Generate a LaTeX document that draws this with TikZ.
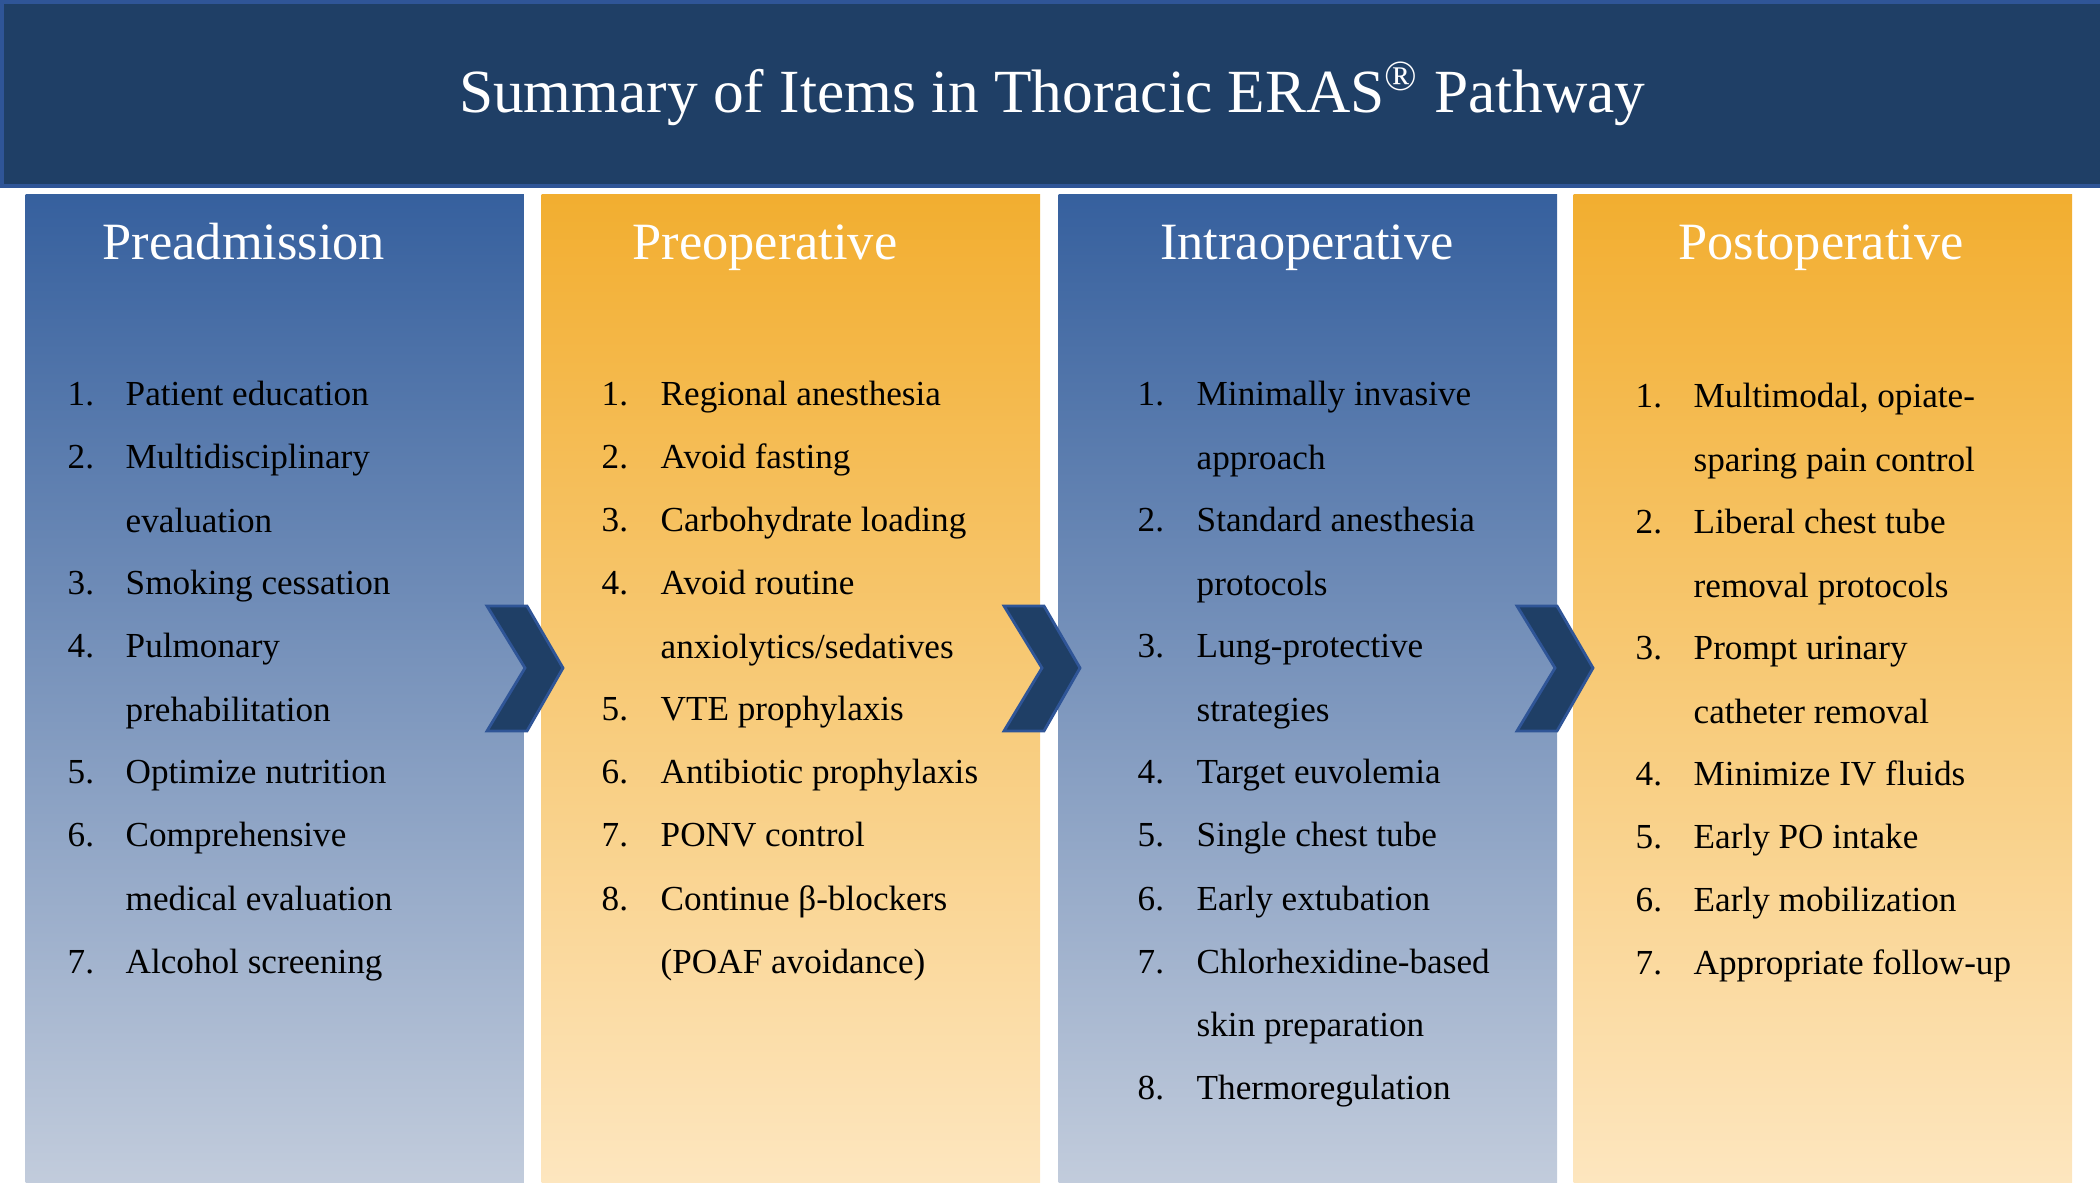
\documentclass[tikz,border=0pt]{standalone}
\usepackage{fontspec}
\setmainfont{Liberation Serif}
\usetikzlibrary{positioning}

\definecolor{navy}{HTML}{1F3F66}
\definecolor{navyedge}{HTML}{2F5597}
\definecolor{bluetop}{HTML}{36609E}
\definecolor{bluemid}{HTML}{8FA3C4}
\definecolor{bluebot}{HTML}{C2CCDC}
\definecolor{orangetop}{HTML}{F2AE30}
\definecolor{orangemid}{HTML}{F9CF8A}
\definecolor{orangebot}{HTML}{FDE6BF}

% two lines of one item, baseline at the first line
\newcommand\twoline[2]{\vtop{\hbox{#1}\hbox{#2}}}

\tikzset{
  phase/.style={anchor=north west, minimum width=4.98cm, minimum height=9.89cm, inner sep=0pt},
  bluephase/.style={phase, top color=bluetop, middle color=bluemid, bottom color=bluebot},
  orangephase/.style={phase, top color=orangetop, middle color=orangemid, bottom color=orangebot},
  phasetitle/.style={anchor=base, inner sep=0pt, text=white, font=\fontsize{14.9}{18}\selectfont},
  num/.style={anchor=base west, inner sep=0pt, font=\fontsize{10}{17.93}\selectfont},
  item/.style={anchor=base west, inner sep=0pt, font=\fontsize{10}{17.93}\selectfont},
  chevron/.style={fill=navy, draw=navyedge, line width=0.8pt, line join=miter}
}

\begin{document}
\begin{tikzpicture}[x=0.01cm, y=-0.01cm]
\useasboundingbox (0,0) rectangle (2100,1183);

% title bar
\node[anchor=north west, minimum width=21cm, minimum height=1.84cm, fill=navy, draw=navyedge,
      line width=1pt, text=white, font=\fontsize{17.45}{20}\selectfont] (bar) at (0,0)
      {\raisebox{1pt}{Summary of Items in Thoracic ERAS\textsuperscript{®} Pathway}};

% the four phases
\node[bluephase] (colpa) at (25,194) {};
\node[orangephase] (colpr) at (541,194) {};
\node[bluephase] (colin) at (1058,194) {};
\node[orangephase] (colpo) at (1573,194) {};

\node[phasetitle] (tpa) at (244,260) {Preadmission};
\node[phasetitle] (tpr) at (765,260) {Preoperative};
\node[phasetitle] (tin) at (1307,260) {Intraoperative};
\node[phasetitle] (tpo) at (1821,260) {Postoperative};

% chevrons between phases
\foreach \x in {487,1004,1517}
  \draw[chevron] (\x,606) -- ++(40,0) -- ++(36,62) -- ++(-36,63) -- ++(-40,0) -- ++(38,-63) -- cycle;

% preadmission items
\foreach \n/\l/\t in {1/0/Patient education, 2/1/{\twoline{Multidisciplinary}{evaluation}},
    3/3/Smoking cessation, 4/4/{\twoline{Pulmonary}{prehabilitation}}, 5/6/Optimize nutrition,
    6/7/{\twoline{Comprehensive}{medical evaluation}}, 7/9/Alcohol screening}{
  \node[num] (pa\n) at (67,406+63*\l) {\n.};
  \node[item] (pa\n-txt) at (125,406+63*\l) {\t};
}

% preoperative items
\foreach \n/\l/\t in {1/0/Regional anesthesia, 2/1/Avoid fasting, 3/2/Carbohydrate loading,
    4/3/{\twoline{Avoid routine}{anxiolytics/sedatives}}, 5/5/VTE prophylaxis, 6/6/Antibiotic prophylaxis,
    7/7/PONV control, 8/8/{\twoline{Continue β-blockers}{(POAF avoidance)}}}{
  \node[num] (pr\n) at (601,406+63*\l) {\n.};
  \node[item] (pr\n-txt) at (660,406+63*\l) {\t};
}

% intraoperative items
\foreach \n/\l/\t in {1/0/{\twoline{Minimally invasive}{approach}}, 2/2/{\twoline{Standard anesthesia}{protocols}},
    3/4/{\twoline{Lung-protective}{strategies}}, 4/6/Target euvolemia, 5/7/Single chest tube,
    6/8/Early extubation, 7/9/{\twoline{Chlorhexidine-based}{skin preparation}}, 8/11/Thermoregulation}{
  \node[num] (in\n) at (1137,406+63*\l) {\n.};
  \node[item] (in\n-txt) at (1196,406+63*\l) {\t};
}

% postoperative items
\foreach \n/\l/\t in {1/0/{\twoline{Multimodal, opiate-}{sparing pain control}}, 2/2/{\twoline{Liberal chest tube}{removal protocols}},
    3/4/{\twoline{Prompt urinary}{catheter removal}}, 4/6/Minimize IV fluids, 5/7/Early PO intake,
    6/8/Early mobilization, 7/9/Appropriate follow-up}{
  \node[num] (po\n) at (1635,408+63*\l) {\n.};
  \node[item] (po\n-txt) at (1693,408+63*\l) {\t};
}
\end{tikzpicture}
\end{document}
